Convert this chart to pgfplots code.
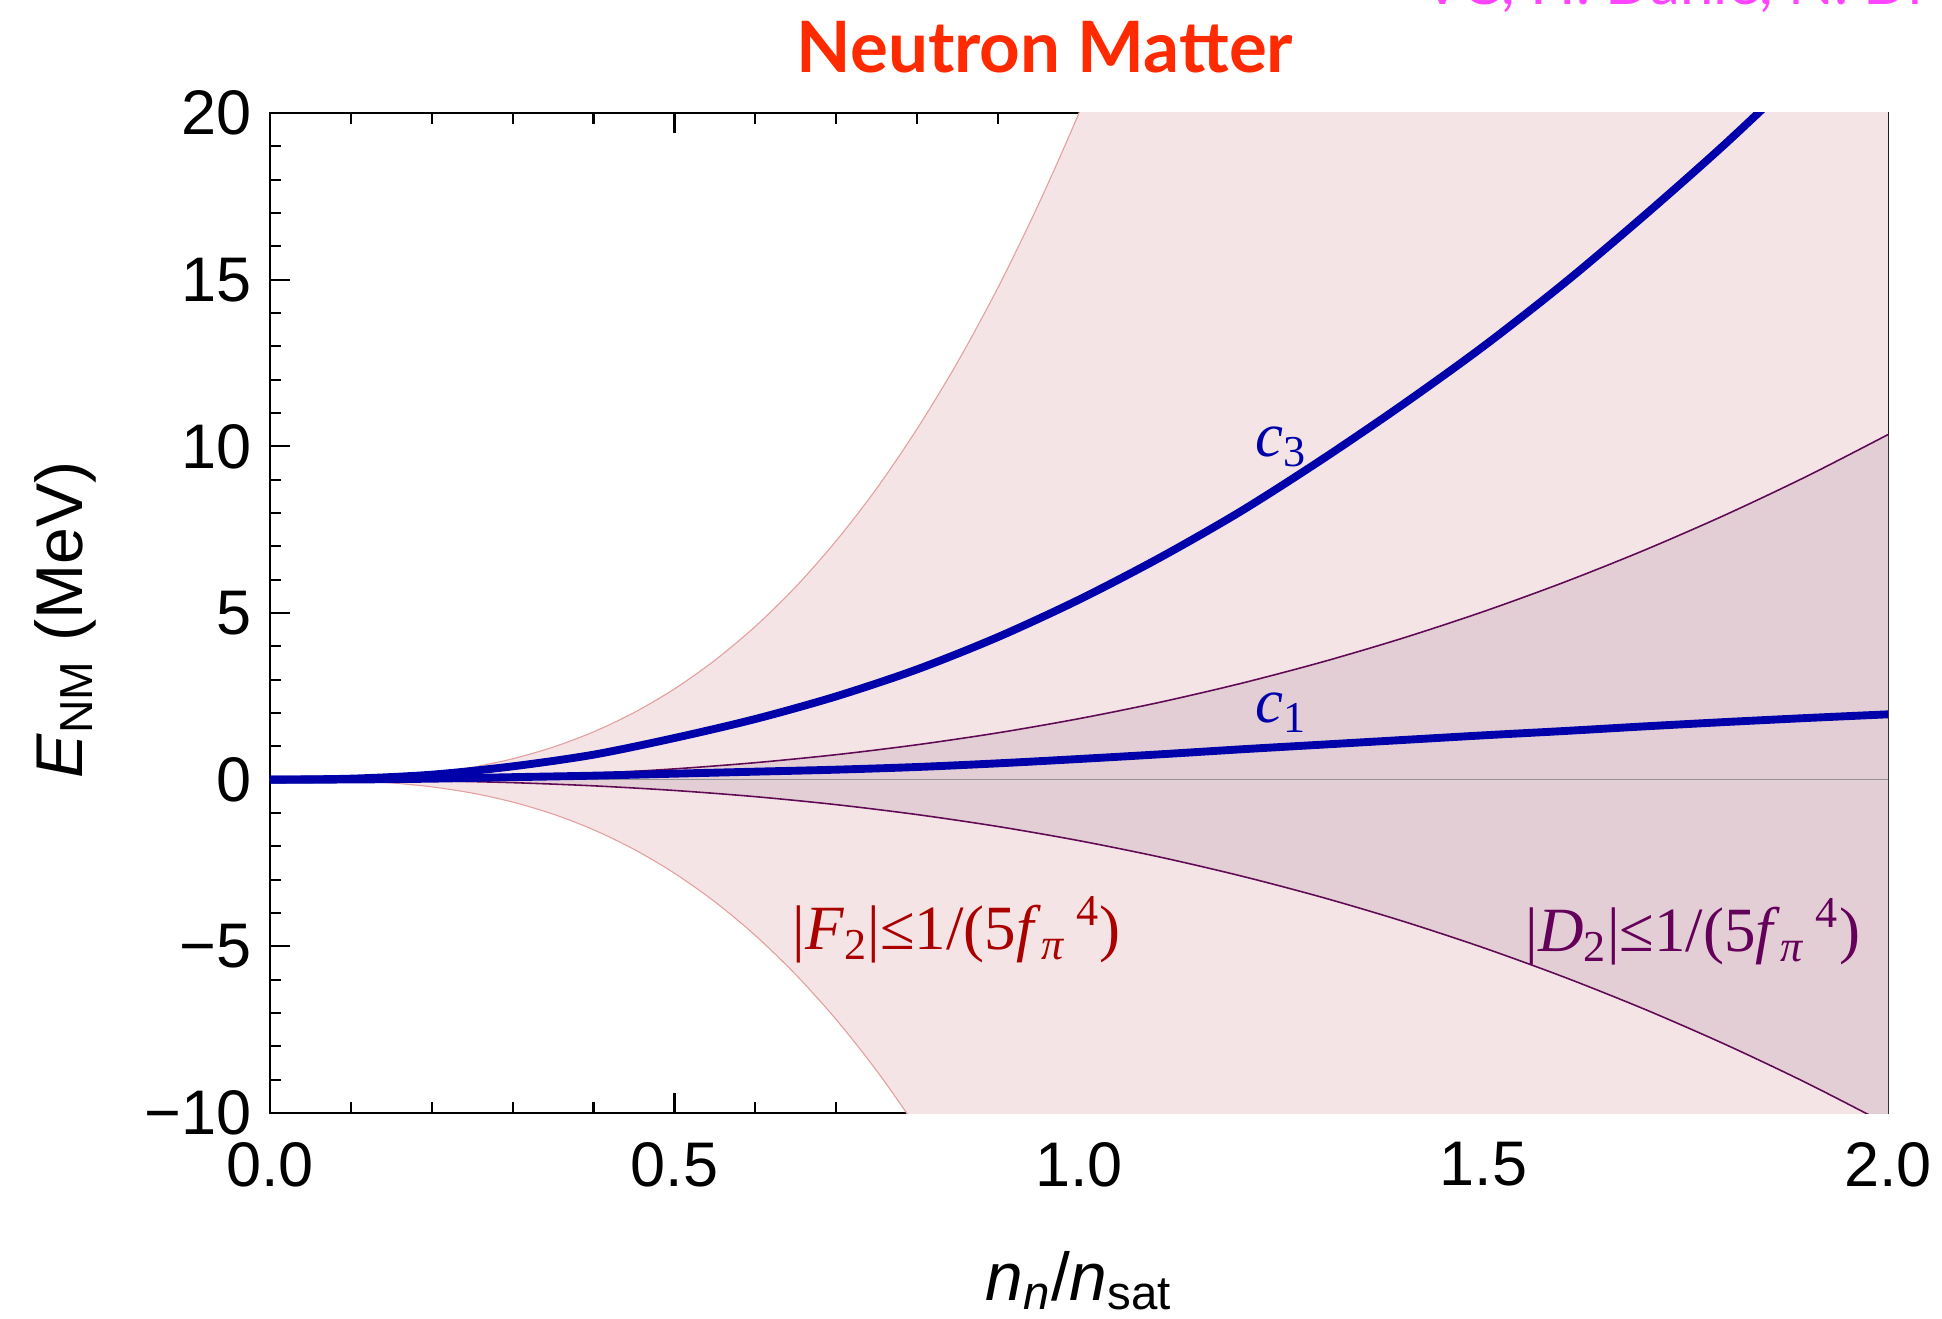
\documentclass[border=0pt]{standalone}
\usepackage{fontspec}
\setmainfont{Liberation Sans}
\newfontfamily\serifnm{Liberation Serif}
\newfontfamily\titlefont{Lato}
\usepackage{pgfplots}
\usepackage{pgfplotstable}
\usepgfplotslibrary{fillbetween}
\pgfplotsset{compat=1.18}

\definecolor{bandF}{RGB}{245,228,229}
\definecolor{bandD}{RGB}{228,206,213}
\definecolor{edgeF}{RGB}{228,160,160}
\definecolor{edgeD}{RGB}{96,10,86}
\definecolor{cblue}{RGB}{0,0,170}
\definecolor{titlered}{RGB}{255,42,0}
\definecolor{labF}{RGB}{170,0,0}
\definecolor{labD}{RGB}{100,0,90}
\definecolor{authors}{RGB}{255,68,255}

% outer band: |F_2| <= 1/(5 f_pi^4)
\pgfplotstableread{
x     F2u    F2l
0.00  0      0
0.05  0.004  -0.005
0.10  0.027  -0.031
0.15  0.085  -0.096
0.20  0.195  -0.216
0.25  0.371  -0.403
0.30  0.627  -0.672
0.35  0.977  -1.034
0.40  1.434  -1.503
0.45  2.012  -2.090
0.50  2.724  -2.808
0.55  3.584  -3.666
0.60  4.60   -4.676
0.65  5.79   -5.851
0.70  7.17   -7.20
0.75  8.74   -8.735
0.80  10.53  -10.47
0.85  12.53  -12.40
0.90  14.77  -14.55
0.95  17.26  -16.93
1.00  20.0   -19.55
1.05  23.0   -22.41
1.10  26.3   -25.53
1.20  33.8   -32.6
1.50  64     -60.8
2.00  147    -136
}\outerband

% inner band |D_2| <= 1/(5 f_pi^4) and the c1, c3 curves
\pgfplotstableread{
x    D2u     D2l      c1     c3
0.0  0       0        0      0
0.1  0.006   -0.006   0.005  0.03
0.2  0.033   -0.033   0.03   0.15
0.3  0.090   -0.090   0.075  0.40
0.4  0.185   -0.185   0.12   0.75
0.5  0.324   -0.324   0.18   1.25
0.6  0.510   -0.510   0.24   1.82
0.7  0.750   -0.750   0.30   2.50
0.8  1.048   -1.048   0.38   3.31
0.9  1.406   -1.406   0.49   4.28
1.0  1.830   -1.830   0.62   5.40
1.1  2.322   -2.322   0.76   6.66
1.2  2.887   -2.887   0.91   8.05
1.3  3.526   -3.526   1.05   9.60
1.4  4.244   -4.244   1.19   11.25
1.5  5.043   -5.043   1.33   13.00
1.6  5.926   -5.926   1.46   14.90
1.7  6.896   -6.896   1.60   16.95
1.8  7.955   -7.955   1.73   19.10
1.9  9.106   -9.106   1.85   21.40
2.0  10.352  -10.352  1.96   23.80
}\innerband

\begin{document}
\begin{tikzpicture}
\begin{axis}[
  at={(0pt,0pt)}, anchor=south west,
  scale only axis, width=513.65pt, height=317.46pt,
  xmin=0, xmax=2, ymin=-10, ymax=20,
  xtick={0,0.5,1,1.5,2}, xticklabels={0.0,0.5,1.0,1.5,2.0},
  ytick={-10,-5,0,5,10,15,20}, yticklabels={−10,−5,0,5,10,15,20},
  minor x tick num=4, minor y tick num=4,
  tick pos=both, tick align=inside,
  major tick length=6.3pt, minor tick length=3.5pt,
  every tick/.style={black, line width=0.7pt},
  axis line style={line width=0.9pt},
  tick label style={font=\fontsize{20}{24}\selectfont, inner sep=0pt},
  xticklabel style={anchor=north, yshift=-9.2pt},
  yticklabel style={anchor=east, xshift=-5.7pt},
  xlabel={\textit{n}\textsubscript{\textit{n}}/\textit{n}\textsubscript{sat}},
  xlabel style={at={(rel axis cs:0.5,0)}, anchor=base, yshift=-59.4pt,
    inner sep=0pt, font=\fontsize{21.5}{24}\selectfont},
  ylabel={\textit{E}\textsubscript{NM} (MeV)},
  ylabel style={at={([xshift=-59.4pt]rel axis cs:0,0.493)}, anchor=base,
    inner sep=0pt, font=\fontsize{21}{24}\selectfont},
  title={\titlefont\bfseries Neutron Matter},
  title style={at={(rel axis cs:0.479,1)}, anchor=base, yshift=7pt,
    inner sep=0pt, text=titlered, font=\fontsize{22.5}{26}\selectfont},
]
% bands
\addplot[draw=none, smooth, name path=F2u] table[x=x, y=F2u] {\outerband};
\addplot[draw=none, smooth, name path=F2l] table[x=x, y=F2l] {\outerband};
\addplot[fill=bandF, draw=none] fill between[of=F2u and F2l];
\addplot[draw=none, smooth, name path=D2u] table[x=x, y=D2u] {\innerband};
\addplot[draw=none, smooth, name path=D2l] table[x=x, y=D2l] {\innerband};
\addplot[fill=bandD, draw=none] fill between[of=D2u and D2l];
% zero line
\addplot[black!42, line width=0.5pt] coordinates {(0,0) (2,0)};
% band edges
\addplot[edgeF, line width=0.35pt, smooth] table[x=x, y=F2u] {\outerband};
\addplot[edgeF, line width=0.35pt, smooth] table[x=x, y=F2l] {\outerband};
\addplot[edgeD, line width=0.5pt, smooth] table[x=x, y=D2u] {\innerband};
\addplot[edgeD, line width=0.5pt, smooth] table[x=x, y=D2l] {\innerband};
% c1 and c3 contributions
\addplot[cblue, line width=2.5pt, smooth] table[x=x, y=c1] {\innerband};
\addplot[cblue, line width=2.5pt, smooth] table[x=x, y=c3] {\innerband};
% labels
\node[anchor=base west, inner sep=0pt, text=cblue, font=\serifnm\fontsize{20}{24}\selectfont]
  at (axis cs:1.2176,9.69) {\textit{c}\textsubscript{3}};
\node[anchor=base west, inner sep=0pt, text=cblue, font=\serifnm\fontsize{20}{24}\selectfont]
  at (axis cs:1.2176,1.71) {\textit{c}\textsubscript{1}};
\node[anchor=base west, inner sep=0pt, text=labF, font=\serifnm\fontsize{20}{24}\selectfont]
  at (axis cs:0.645,-5.1) {|\textit{F}\textsubscript{2}|≤1/(5\textit{f}\textsubscript{\textit{π}}\,\textsuperscript{4})};
\node[anchor=base west, inner sep=0pt, text=labD, font=\serifnm\fontsize{20}{24}\selectfont]
  at (axis cs:1.551,-5.15) {|\textit{D}\textsubscript{2}|≤1/(5\textit{f}\textsubscript{\textit{π}}\,\textsuperscript{4})};
\end{axis}
\node[anchor=base west, inner sep=0pt, text=authors, font=\titlefont\fontsize{19}{23}\selectfont]
  at (365.7pt,352.0pt) {VC, H. Dahle, N. Dr};
\pgfresetboundingbox
\useasboundingbox (-85.71pt,-65.08pt) rectangle (530.79pt,353.33pt);
\end{tikzpicture}
\end{document}
